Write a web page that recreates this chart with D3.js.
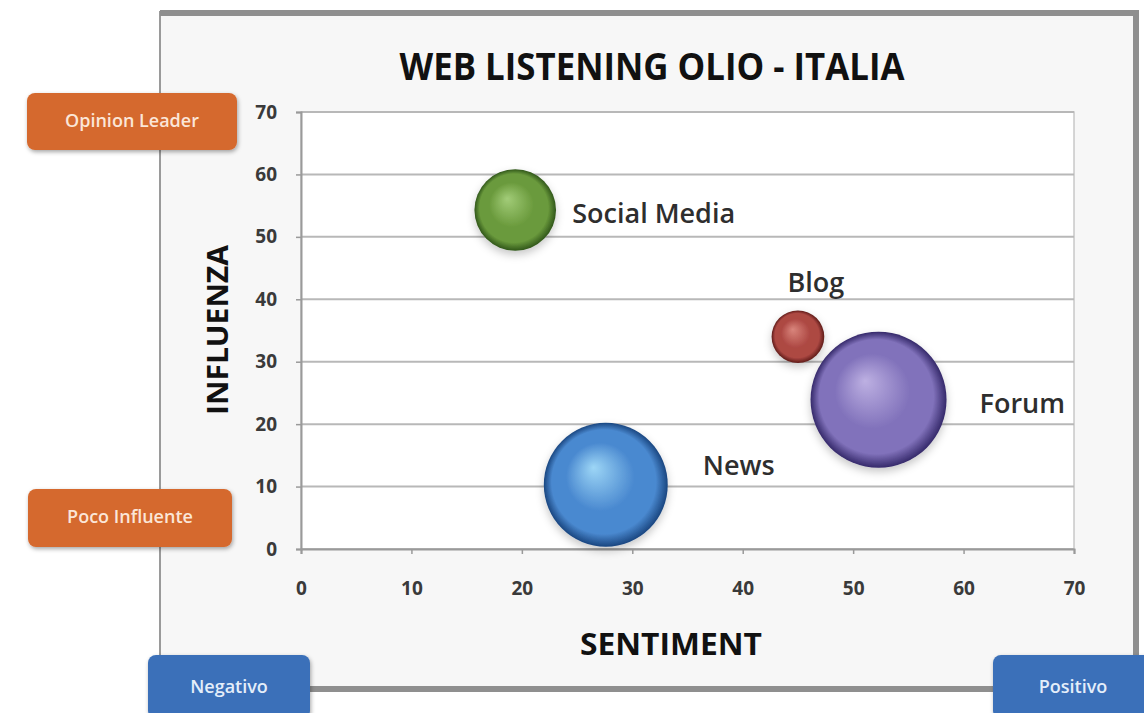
<!DOCTYPE html>
<html><head><meta charset="utf-8">
<script src="https://cdn.jsdelivr.net/npm/d3@7"></script>
<style>body{margin:0;background:#fff;}svg{display:block;font-family:"Open Sans",sans-serif;}</style>
</head><body>
<script>
const categories = ["Social Media","Blog","Forum","News"];
const sentiment = [19.4, 45.0, 52.3, 27.6];
const influenza = [54.3, 34.0, 23.9, 10.3];
const bubbleSize = [36, 15, 100, 83];
const xTicks = [0,10,20,30,40,50,60,70];
const yTicks = [0,10,20,30,40,50,60,70];
const colors = [
  {base:"#6a9a3c", hi:"#a2cc78", edge:"#30561a"},
  {base:"#ad4843", hi:"#d9857c", edge:"#5e1b18"},
  {base:"#8172bb", hi:"#bdb0e2", edge:"#35296a"},
  {base:"#4a89d0", hi:"#9dd6f6", edge:"#1a4680"}
];
const labelPlace = [{dx:57,dy:6,anchor:"start"},{dx:18,dy:-52,anchor:"middle"},{dx:101,dy:6,anchor:"start"},{dx:97,dy:-17,anchor:"start"}];

const W=1144,H=713;
const svg=d3.select("body").append("svg").attr("width",W).attr("height",H);
const defs=svg.append("defs");

const fsh=defs.append("filter").attr("id","fs").attr("x","-10%").attr("y","-10%").attr("width","130%").attr("height","130%");
fsh.append("feDropShadow").attr("dx",1).attr("dy",2).attr("stdDeviation",2).attr("flood-color","#000").attr("flood-opacity",0.35);

svg.append("rect").attr("x",160).attr("y",12).attr("width",977).attr("height",677)
  .attr("fill","#f7f7f7").attr("stroke","#9a9a9a").attr("stroke-width",2);
svg.append("line").attr("x1",160).attr("x2",1139).attr("y1",13).attr("y2",13).attr("stroke","#8f8f8f").attr("stroke-width",6);
svg.append("line").attr("x1",1136).attr("x2",1136).attr("y1",12).attr("y2",691).attr("stroke","#8f8f8f").attr("stroke-width",6);
svg.append("line").attr("x1",160).attr("x2",1139).attr("y1",689).attr("y2",689).attr("stroke","#8f8f8f").attr("stroke-width",6);

const x=d3.scaleLinear().domain([0,70]).range([301,1074]);
const y=d3.scaleLinear().domain([0,70]).range([549,112]);
const r=d3.scaleSqrt().domain([0,100]).range([0,68]);

svg.append("rect").attr("x",x(0)).attr("y",y(70)).attr("width",x(70)-x(0)).attr("height",y(0)-y(70)).attr("fill","#fff")
  .attr("stroke","#c8c8c8").attr("stroke-width",1.5);

svg.append("g").selectAll("line").data(yTicks).join("line")
  .attr("x1",x(0)).attr("x2",x(70)).attr("y1",d=>y(d)).attr("y2",d=>y(d))
  .attr("stroke","#b8b8b8").attr("stroke-width",2);

const xAxis=svg.append("g").attr("transform",`translate(0,${y(0)})`)
  .call(d3.axisBottom(x).tickValues(xTicks).tickSize(5).tickPadding(28));
const yAxis=svg.append("g").attr("transform",`translate(${x(0)},0)`)
  .call(d3.axisLeft(y).tickValues(yTicks).tickSize(5).tickPadding(19));
[xAxis,yAxis].forEach(a=>{
  a.select(".domain").attr("stroke","#9a9a9a").attr("stroke-width",2);
  a.selectAll(".tick line").attr("stroke","#9a9a9a").attr("stroke-width",1.5);
  a.selectAll("text").attr("font-family","Open Sans").attr("font-size",19).attr("font-weight",700).attr("fill","#3a3a3a");
});

colors.forEach((c,i)=>{
  const g=defs.append("radialGradient").attr("id","g"+i).attr("cx","50%").attr("cy","50%").attr("r","50%")
    .attr("fx","40%").attr("fy","36%");
  g.append("stop").attr("offset","0%").attr("stop-color",c.hi);
  g.append("stop").attr("offset","55%").attr("stop-color",c.base);
  g.append("stop").attr("offset","84%").attr("stop-color",c.base);
  g.append("stop").attr("offset","100%").attr("stop-color",c.edge);
});
const bs=defs.append("filter").attr("id","bs").attr("x","-30%").attr("y","-30%").attr("width","160%").attr("height","170%");
bs.append("feDropShadow").attr("dx",0).attr("dy",4).attr("stdDeviation",4).attr("flood-color","#000").attr("flood-opacity",0.22);

const data=categories.map((c,i)=>({c,x:sentiment[i],y:influenza[i],s:bubbleSize[i],i}));
svg.append("g").selectAll("circle").data(data).join("circle")
  .attr("cx",d=>x(d.x)).attr("cy",d=>y(d.y)).attr("r",d=>r(d.s))
  .attr("fill",d=>`url(#g${d.i})`).attr("filter","url(#bs)");

svg.append("g").selectAll("text").data(data).join("text")
  .attr("x",d=>x(d.x)+labelPlace[d.i].dx).attr("y",d=>y(d.y)+labelPlace[d.i].dy)
  .attr("text-anchor",d=>labelPlace[d.i].anchor).attr("dominant-baseline","middle")
  .attr("font-size",27).attr("font-weight",600).attr("fill","#2e2e2e").text(d=>d.c);

svg.append("text").attr("x",652).attr("y",80).attr("text-anchor","middle").attr("font-size",37).attr("font-weight",700)
  .attr("fill","#111").attr("textLength",505).attr("lengthAdjust","spacingAndGlyphs").text("WEB LISTENING OLIO - ITALIA");
svg.append("text").attr("x",671).attr("y",655).attr("text-anchor","middle").attr("font-size",31).attr("font-weight",700)
  .attr("fill","#111").attr("textLength",182).attr("lengthAdjust","spacingAndGlyphs").text("SENTIMENT");
svg.append("text").attr("transform","translate(228,330) rotate(-90)").attr("text-anchor","middle").attr("font-size",29).attr("font-weight",700)
  .attr("fill","#111").attr("textLength",170).attr("lengthAdjust","spacingAndGlyphs").text("INFLUENZA");

const callouts=[
  {t:"Opinion Leader",x:27,y:93,w:210,h:57,fill:"#d5692d",tc:"#fbe6d8",cy:122},
  {t:"Poco Influente",x:28,y:489,w:204,h:58,fill:"#d5692d",tc:"#fbe6d8",cy:518},
  {t:"Negativo",x:148,y:655,w:162,h:64,fill:"#3a70b9",tc:"#e4eefa",cy:688},
  {t:"Positivo",x:993,y:655,w:160,h:64,fill:"#3a70b9",tc:"#e4eefa",cy:688}
];
const cg=svg.append("g").selectAll("g").data(callouts).join("g");
cg.append("rect").attr("x",d=>d.x).attr("y",d=>d.y).attr("width",d=>d.w).attr("height",d=>d.h).attr("rx",8)
  .attr("fill",d=>d.fill).attr("filter","url(#fs)");
cg.append("text").attr("x",(d,i)=>i===3?1073:d.x+d.w/2).attr("y",d=>d.cy).attr("text-anchor","middle").attr("dominant-baseline","middle")
  .attr("font-size",18).attr("font-weight",600).attr("fill",d=>d.tc).text(d=>d.t);
</script>
</body></html>
